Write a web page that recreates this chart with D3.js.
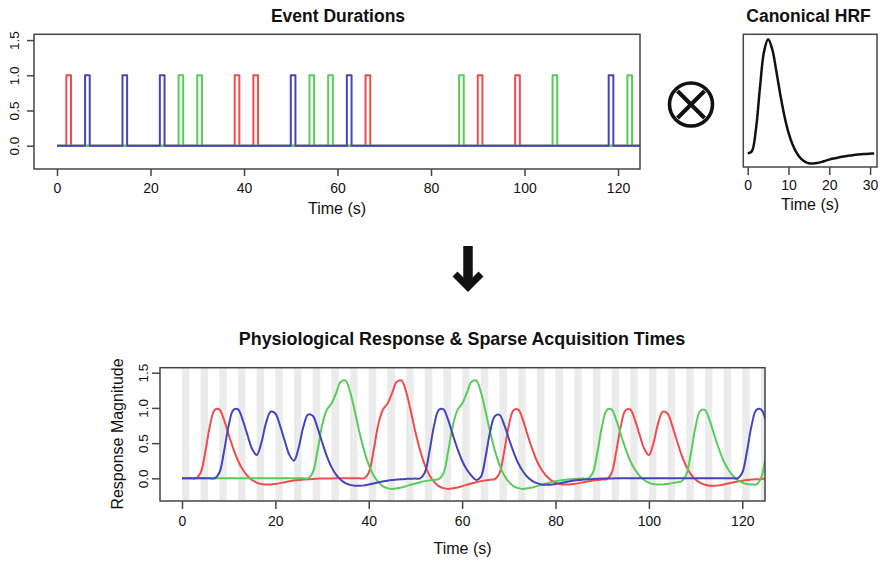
<!DOCTYPE html>
<html><head><meta charset="utf-8">
<script src="https://cdn.jsdelivr.net/npm/d3@7"></script>
<style>
body{margin:0;background:#fff;}
svg{display:block;font-family:"Liberation Sans",Arial,Helvetica,sans-serif;}
</style></head><body>
<svg id="chart" width="881" height="561"></svg>
<script>
// ---------------- DATA ----------------
const conditions = ["red", "green", "blue"];
const redOnsets   = [2, 38, 42, 66, 90, 98];
const greenOnsets = [26, 30, 54, 58, 86, 106, 122];
const blueOnsets  = [6, 14, 22, 50, 62, 118];
const eventDuration = 1;
const eventEnd = 125;

const hrfTimes  = [0,1,2,3,4,5,6,7,8,9,10,11,12,13,14,15,16,17,18,19,20,21,22,23,24,25,26,27,28,29,30,31];
const hrfValues = [0,0.017,0.206,0.574,0.891,1.0,0.915,0.725,0.513,0.328,0.182,0.077,0.004,-0.044,-0.073,-0.087,
                   -0.089,-0.085,-0.077,-0.066,-0.055,-0.046,-0.038,-0.031,-0.025,-0.02,-0.015,-0.011,-0.008,-0.005,-0.003,-0.001];

const sampleStep = 1; // seconds between response samples (first sample at t = 0)
const redResponse = [0,0,0,0.001,0.08,0.38,0.75,0.97,0.98,0.83,
  0.62,0.42,0.25,0.125,0.037,-0.023,-0.06,-0.082,-0.087,-0.088,
  -0.079,-0.068,-0.055,-0.043,-0.032,-0.024,-0.018,-0.012,-0.008,-0.005,
  -0.003,-0.002,-0.001,0,0,0,0,0,0,0.001,
  0.08,0.38,0.75,0.971,1.06,1.21,1.37,1.39,1.23,0.955,
  0.657,0.397,0.19,0.043,-0.05,-0.111,-0.139,-0.15,-0.142,-0.131,
  -0.111,-0.092,-0.073,-0.055,-0.04,-0.029,-0.021,-0.013,0.071,0.375,
  0.747,0.968,0.979,0.83,0.62,0.42,0.25,0.125,0.037,-0.023,
  -0.06,-0.082,-0.087,-0.088,-0.079,-0.068,-0.055,-0.043,-0.032,-0.024,
  -0.018,-0.011,0.072,0.375,0.747,0.968,0.979,0.83,0.62,0.421,
  0.33,0.505,0.787,0.947,0.92,0.748,0.533,0.332,0.171,0.057,
  -0.018,-0.066,-0.092,-0.106,-0.105,-0.1,-0.087,-0.073,-0.058,-0.045,
  -0.033,-0.024,-0.018,-0.012,-0.008,-0.005];
const greenResponse = [0,0,0,0,0,0,0,0,0,0,
  0,0,0,0,0,0,0,0,0,0,
  0,0,0,0,0,0,0,0.001,0.08,0.38,
  0.75,0.971,1.06,1.21,1.37,1.39,1.23,0.955,0.657,0.397,
  0.19,0.043,-0.05,-0.111,-0.139,-0.15,-0.142,-0.131,-0.111,-0.092,
  -0.073,-0.055,-0.04,-0.029,-0.021,-0.013,0.071,0.375,0.747,0.969,
  1.059,1.21,1.37,1.39,1.23,0.955,0.657,0.397,0.19,0.043,
  -0.05,-0.111,-0.139,-0.15,-0.142,-0.131,-0.111,-0.092,-0.073,-0.055,
  -0.04,-0.029,-0.021,-0.014,-0.009,-0.005,-0.003,-0.001,0.079,0.38,
  0.75,0.97,0.98,0.83,0.62,0.42,0.25,0.125,0.037,-0.023,
  -0.06,-0.082,-0.087,-0.088,-0.079,-0.068,-0.055,-0.042,0.048,0.356,
  0.732,0.958,0.972,0.825,0.617,0.418,0.249,0.125,0.037,-0.023,
  -0.06,-0.082,-0.087,-0.087,0.001,0.312];
const blueResponse = [0,0,0,0,0,0,0,0.001,0.08,0.38,
  0.75,0.97,0.98,0.83,0.62,0.421,0.33,0.505,0.787,0.947,
  0.92,0.748,0.533,0.333,0.251,0.437,0.732,0.904,0.888,0.724,
  0.515,0.32,0.163,0.052,-0.021,-0.068,-0.093,-0.106,-0.105,-0.1,
  -0.087,-0.073,-0.058,-0.045,-0.033,-0.024,-0.018,-0.012,-0.008,-0.005,
  -0.003,-0.001,0.079,0.38,0.75,0.97,0.98,0.83,0.62,0.42,
  0.25,0.125,0.037,-0.022,0.02,0.298,0.663,0.882,0.901,0.762,
  0.565,0.377,0.218,0.101,0.019,-0.035,-0.068,-0.087,-0.09,-0.09,
  -0.08,-0.068,-0.055,-0.043,-0.032,-0.024,-0.018,-0.012,-0.008,-0.005,
  -0.003,-0.002,-0.001,0,0,0,0,0,0,0,
  0,0,0,0,0,0,0,0,0,0,
  0,0,0,0,0,0,0,0,0,0.001,
  0.08,0.38,0.75,0.97,0.98,0.83];

const acquisitionTimes = [0,4,8,12,16,20,24,28,32,36,40,44,48,52,56,60,64,68,72,76,80,84,88,92,96,100,104,108,112,116,120,124];
const acquisitionDuration = 1.6;

const timeTicks = [0,20,40,60,80,100,120];
const hrfTicks = [0,10,20,30];
const magTicks = [0,0.5,1.0,1.5];

// ---------------- STYLE ----------------
const colors = {red:"#f04c4c", green:"#58cc58", blue:"#4444bd"};
const axisColor = "#454545";
const svg = d3.select("#chart");

function boxPanel(id, x, y) {
  const [x0,x1] = x.range(), [y1,y0] = y.range();
  svg.append("clipPath").attr("id", id).append("rect")
    .attr("x", x0).attr("y", y0).attr("width", x1-x0).attr("height", y1-y0);
}
function drawBox(x, y) {
  const [x0,x1] = x.range(), [y1,y0] = y.range();
  svg.append("rect").attr("x", x0).attr("y", y0).attr("width", x1-x0).attr("height", y1-y0)
    .attr("fill","none").attr("stroke", axisColor).attr("stroke-width", 1.5);
}
function xAxis(x, y, ticks, size, pad) {
  const g = svg.append("g").attr("transform", `translate(0,${y.range()[0]})`)
    .call(d3.axisBottom(x).tickValues(ticks).tickSize(size).tickPadding(pad).tickFormat(d3.format("d")));
  g.select(".domain").remove();
  g.selectAll("line").attr("stroke", axisColor).attr("stroke-width", 1.5);
  g.selectAll("text").attr("font-size", 14).attr("fill", "#111").attr("font-family", null);
}
function yAxis(x, y, ticks, size, off) {
  const g = svg.append("g").attr("transform", `translate(${x.range()[0]},0)`)
    .call(d3.axisLeft(y).tickValues(ticks).tickSize(size).tickFormat(d3.format(".1f")));
  g.select(".domain").remove();
  g.selectAll("line").attr("stroke", axisColor).attr("stroke-width", 1.5);
  g.selectAll("text").attr("font-size", 13.5).attr("fill", "#111").attr("font-family", null)
    .attr("transform","rotate(-90)").attr("x",0).attr("y",-off).attr("dy",0)
    .attr("text-anchor","middle");
}
function label(txt, x, y, size, bold, rot) {
  const t = svg.append("text").attr("x", x).attr("y", y).attr("text-anchor","middle")
    .attr("font-size", size).attr("fill","#111").text(txt);
  if (bold) t.attr("font-weight","bold");
  if (rot) t.attr("transform", `rotate(-90,${x},${y})`);
}

// ---------------- PANEL 1: Event durations ----------------
const x1 = d3.scaleLinear().domain([-4.92, 124.7]).range([34, 640]);
const y1 = d3.scaleLinear().domain([-0.331, 1.582]).range([169, 34.3]);
boxPanel("clip1", x1, y1);
const onsetsByCond = {red: redOnsets, green: greenOnsets, blue: blueOnsets};
const stepLine = d3.line().x(d => x1(d[0])).y(d => y1(d[1]));
const g1 = svg.append("g").attr("clip-path","url(#clip1)");
conditions.forEach(c => {
  const pts = [[0,0]];
  onsetsByCond[c].forEach(o => {
    pts.push([o,0],[o,1],[o+eventDuration,1],[o+eventDuration,0]);
  });
  pts.push([eventEnd,0]);
  g1.append("path").attr("d", stepLine(pts)).attr("fill","none")
    .attr("stroke", colors[c]).attr("stroke-width", 2).attr("stroke-linejoin","round");
});
drawBox(x1, y1);
xAxis(x1, y1, timeTicks, 7, 7);
yAxis(x1, y1, magTicks, 7, 15);
label("Event Durations", 338, 21.7, 17.5, true);
label("Time (s)", 337, 214, 16, false);

// ---------------- PANEL 2: Canonical HRF ----------------
const x2 = d3.scaleLinear().domain([-1.08, 31.7]).range([743.3, 877]);
const y2 = d3.scaleLinear().domain([-0.12, 1.044]).range([167, 34.3]);
boxPanel("clip2", x2, y2);
svg.append("g").attr("clip-path","url(#clip2)").append("path")
  .attr("d", d3.line().x((d,i) => x2(hrfTimes[i])).y(d => y2(d)).curve(d3.curveCatmullRom)(hrfValues))
  .attr("fill","none").attr("stroke","#111").attr("stroke-width", 2.5);
drawBox(x2, y2);
xAxis(x2, y2, hrfTicks, 8, 5);
label("Canonical HRF", 808.5, 21.7, 17.5, true);
label("Time (s)", 810, 210, 16, false);

// ---------------- Operators ----------------
svg.append("circle").attr("cx", 691).attr("cy", 104.5).attr("r", 21.5)
  .attr("fill","none").attr("stroke","#111").attr("stroke-width", 3.6);
svg.append("path").attr("d","M677.5,91 L704.5,118 M704.5,91 L677.5,118")
  .attr("stroke","#111").attr("stroke-width", 4);
svg.append("path").attr("d","M468,246 L468,283").attr("stroke","#111").attr("stroke-width", 9.5);
svg.append("path").attr("d","M455,274 L468,287 L481,274").attr("fill","none")
  .attr("stroke","#111").attr("stroke-width", 7).attr("stroke-linejoin","miter");

// ---------------- PANEL 3: Physiological response ----------------
const x3 = d3.scaleLinear().domain([-4.71, 124.87]).range([160, 765]);
const y3 = d3.scaleLinear().domain([-0.322, 1.571]).range([501, 367.7]);
boxPanel("clip3", x3, y3);
const g3 = svg.append("g").attr("clip-path","url(#clip3)");
g3.selectAll("rect.acq").data(acquisitionTimes).enter().append("rect").attr("class","acq")
  .attr("x", d => x3(d)).attr("width", x3(acquisitionDuration) - x3(0))
  .attr("y", y3.range()[1]).attr("height", y3.range()[0]-y3.range()[1])
  .attr("fill","#ebebeb");
const respLine = d3.line().x((d,i) => x3(i*sampleStep)).y(d => y3(d)).curve(d3.curveCatmullRom);
const responses = {red: redResponse, green: greenResponse, blue: blueResponse};
conditions.forEach(c => {
  g3.append("path").attr("d", respLine(responses[c])).attr("fill","none")
    .attr("stroke", colors[c]).attr("stroke-width", 2);
});
drawBox(x3, y3);
xAxis(x3, y3, timeTicks, 8, 7);
yAxis(x3, y3, magTicks, 8, 11.7);
label("Physiological Response & Sparse Acquisition Times", 462, 345, 17.9, true);
label("Time (s)", 462.5, 554, 16, false);
label("Response Magnitude", 123, 434, 16, false, true);
</script>
</body></html>
